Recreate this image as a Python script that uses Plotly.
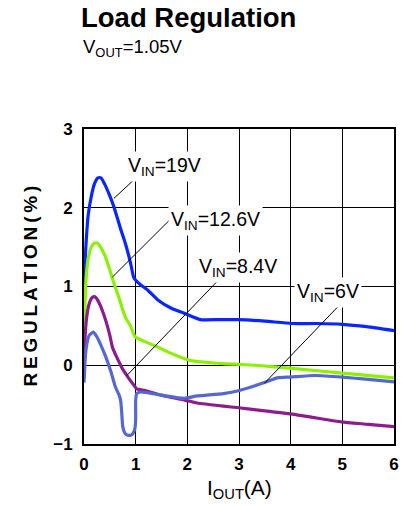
import plotly.graph_objects as go

# ---- data ----
x_19v = [0, 0.02, 0.04, 0.08, 0.14, 0.2, 0.27, 0.33, 0.4, 0.5, 0.58, 0.7, 0.8, 0.9, 0.96, 1.0, 1.1, 1.24, 1.43, 1.7, 1.94, 2.25, 2.6, 3.0, 3.5, 4.03, 4.5, 5.0, 5.47, 6.0]
y_19v = [1.0, 1.3, 1.55, 1.9, 2.14, 2.3, 2.38, 2.38, 2.3, 2.15, 2.01, 1.75, 1.55, 1.3, 1.12, 1.08, 1.02, 0.95, 0.83, 0.72, 0.66, 0.58, 0.58, 0.58, 0.56, 0.53, 0.53, 0.52, 0.49, 0.44]

x_12v6 = [0, 0.02, 0.04, 0.08, 0.14, 0.2, 0.26, 0.32, 0.4, 0.48, 0.56, 0.67, 0.8, 0.9, 0.99, 1.18, 1.4, 1.62, 2.06, 2.7, 3.33, 4.03, 5.0, 6.0]
y_12v6 = [0.45, 0.8, 1.1, 1.35, 1.5, 1.55, 1.55, 1.5, 1.4, 1.25, 1.08, 0.87, 0.61, 0.5, 0.36, 0.3, 0.24, 0.17, 0.06, 0.02, 0.0, -0.04, -0.1, -0.16]

x_8v4 = [0, 0.02, 0.05, 0.1, 0.16, 0.21, 0.27, 0.34, 0.42, 0.5, 0.55, 0.65, 0.74, 0.85, 0.95, 1.02, 1.18, 1.5, 1.94, 2.19, 2.7, 3.0, 3.5, 4.03, 4.5, 4.98, 5.5, 6.0]
y_8v4 = [0.06, 0.35, 0.6, 0.78, 0.86, 0.87, 0.82, 0.72, 0.57, 0.38, 0.23, 0.08, -0.04, -0.15, -0.24, -0.3, -0.32, -0.38, -0.44, -0.48, -0.52, -0.54, -0.58, -0.62, -0.67, -0.72, -0.75, -0.78]

x_6v = [0, 0.01, 0.02, 0.05, 0.1, 0.18, 0.25, 0.33, 0.42, 0.52, 0.61, 0.68, 0.71, 0.73, 0.75, 0.8, 0.86, 0.93, 0.98, 1.0, 1.0, 1.02, 1.1, 1.5, 1.94, 2.19, 2.7, 3.01, 3.49, 3.74, 4.0, 4.47, 5.0, 5.5, 6.0]
y_6v = [-0.22, -0.1, 0.05, 0.25, 0.38, 0.42, 0.36, 0.25, 0.11, -0.08, -0.28, -0.38, -0.45, -0.6, -0.78, -0.87, -0.89, -0.88, -0.82, -0.7, -0.45, -0.36, -0.34, -0.38, -0.42, -0.39, -0.36, -0.32, -0.22, -0.16, -0.15, -0.13, -0.15, -0.18, -0.21]

series = [
    ("V<sub>IN</sub>=19V", x_19v, y_19v, "#0a26ff"),
    ("V<sub>IN</sub>=12.6V", x_12v6, y_12v6, "#8cf000"),
    ("V<sub>IN</sub>=8.4V", x_8v4, y_8v4, "#8c1c8c"),
    ("V<sub>IN</sub>=6V", x_6v, y_6v, "#5668d0"),
]

# label positions (text centre) and leader lines (label end -> curve end)
label_pos = [(1.55, 2.52), (2.54, 1.84), (2.98, 1.24), (4.72, 0.93)]
leader = [((1.09, 2.43), (0.58, 2.12)),
          ((1.65, 1.84), (0.55, 1.12)),
          ((2.57, 1.06), (0.83, -0.13)),
          ((5.07, 0.85), (3.49, -0.23))]

FONT = "Liberation Sans, Arial, sans-serif"

W, H = 392, 496
L, R, T, B = 76, 6, 121, H - 436
PW, PH = W - L - R, H - T - B

fig = go.Figure()
for name, xs, ys, col in series:
    fig.add_trace(go.Scatter(x=xs, y=ys, mode="lines", name=name,
                             line=dict(color=col, width=3.2, shape="spline", smoothing=0.5),
                             showlegend=False))

for (p0, p1) in leader:
    fig.add_shape(type="line", xref="x", yref="y", x0=p0[0], y0=p0[1], x1=p1[0], y1=p1[1],
                  line=dict(color="black", width=1), layer="above")

for (name, _, _, _), (lx, ly) in zip(series, label_pos):
    fig.add_annotation(x=lx, y=ly, xref="x", yref="y", text=name, showarrow=False,
                       font=dict(family=FONT, size=19.5, color="black"),
                       bgcolor="white", borderpad=2)

# subtitle above the plot area
fig.add_annotation(x=-3 / PW, y=1 + (129 - 48) / PH, xref="paper", yref="paper",
                   text="V<sub>OUT</sub>=1.05V", showarrow=False, xanchor="left", yanchor="middle",
                   font=dict(family=FONT, size=18.5, color="black"))

# y-axis title as rotated annotation
ytitle = "\u2009".join(list("REGULATION(%)"))
fig.add_annotation(x=(30 - 84) / PW, y=0.5, xref="paper", yref="paper",
                   text="<b>" + ytitle + "</b>", showarrow=False, textangle=-90,
                   xanchor="center", yanchor="middle",
                   font=dict(family=FONT, size=19, color="black"))

# x-axis title
fig.add_annotation(x=0.5, y=-30 / PH, xref="paper", yref="paper",
                   text="I<sub>OUT</sub>(A)", showarrow=False, xanchor="center", yanchor="top",
                   font=dict(family=FONT, size=21, color="black"))

fig.update_layout(
    width=W, height=H,
    margin=dict(l=L, r=R, t=T, b=B, autoexpand=False),
    paper_bgcolor="white", plot_bgcolor="white",
    title=dict(text="<b>Load Regulation</b>", x=73 / W, xanchor="left", y=1, yanchor="top",
               pad=dict(t=0, b=0, l=0, r=0),
               font=dict(family=FONT, size=27.5, color="black")),
    font=dict(family=FONT, color="black"),
)
axis_common = dict(showgrid=True, gridcolor="black", gridwidth=1,
                   showline=True, linecolor="black", linewidth=2, mirror=True, zeroline=False,
                   ticks="", tickmode="linear", dtick=1,
                   tickfont=dict(family=FONT, size=17, color="black", weight="bold"))
fig.update_xaxes(range=[0, 6], tick0=0, ticklabelstandoff=4, **axis_common)
fig.update_yaxes(range=[-1, 3], tick0=-1, ticklabelstandoff=6, **axis_common)

fig.write_html("out.html")
